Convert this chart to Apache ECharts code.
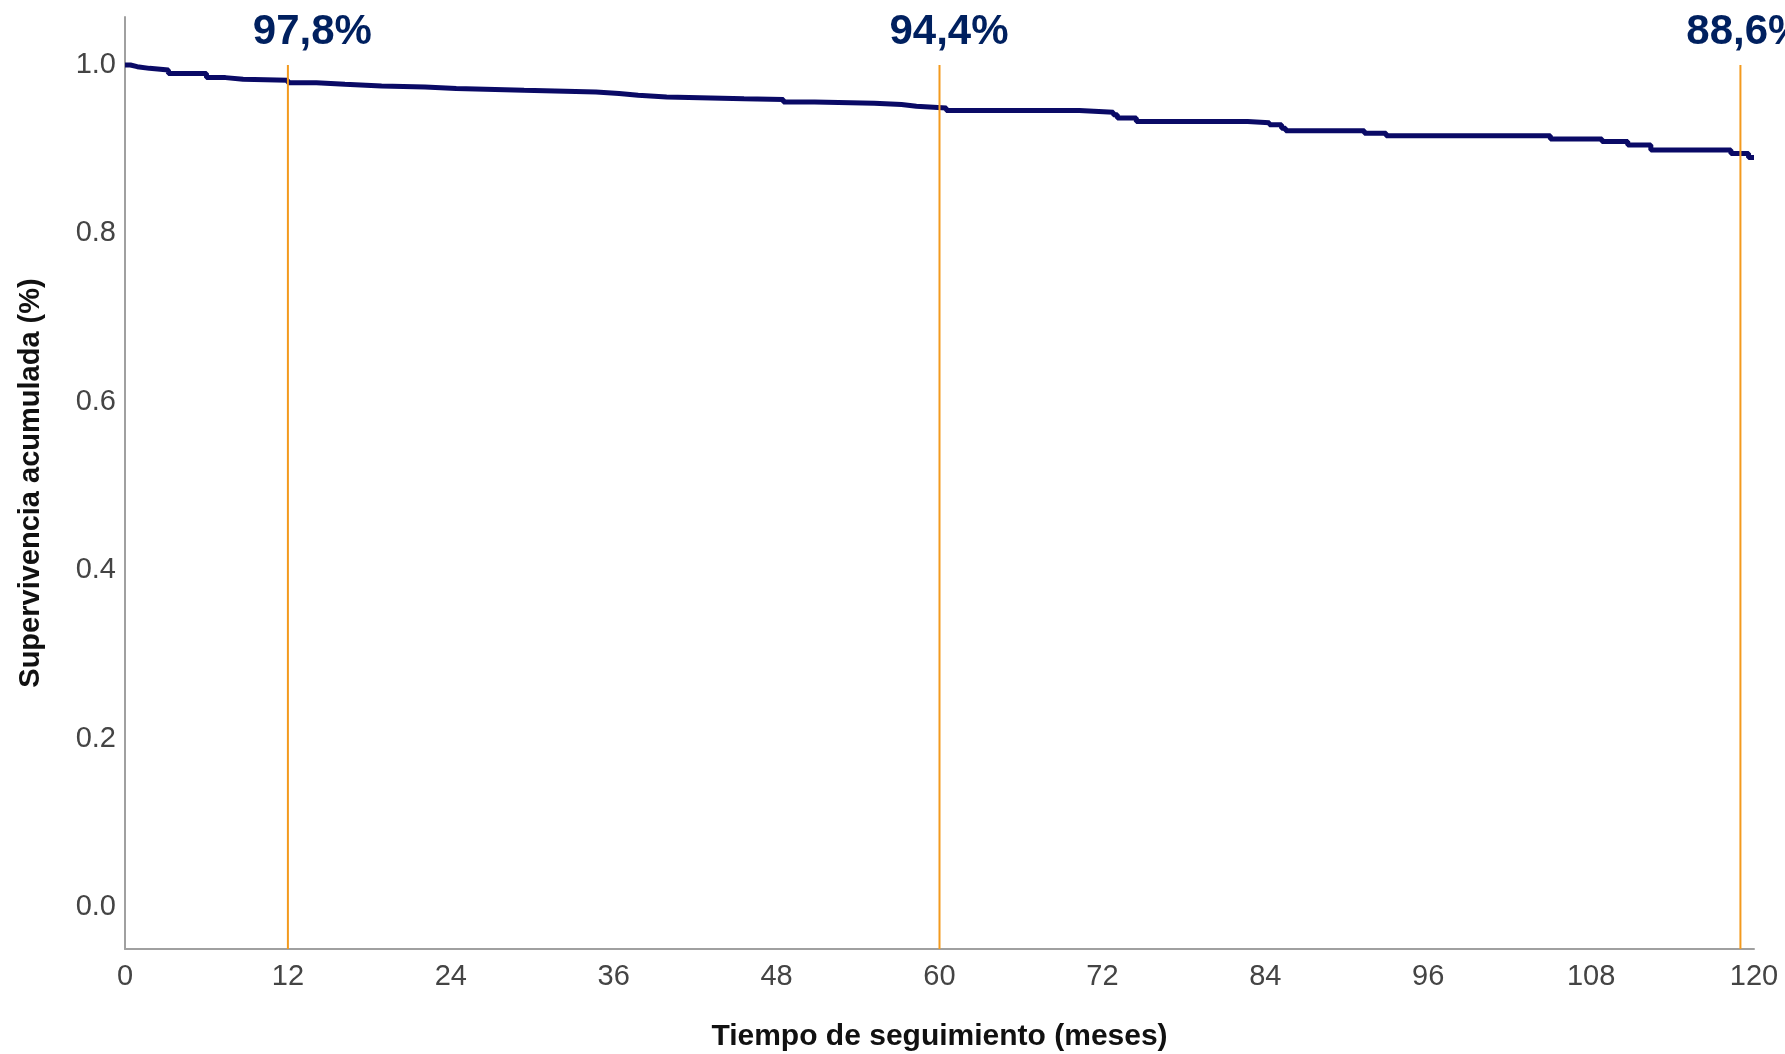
<!DOCTYPE html>
<html>
<head>
<meta charset="utf-8">
<title>Supervivencia acumulada</title>
<script src="https://cdn.jsdelivr.net/npm/echarts@6/dist/echarts.min.js"></script>
<style>
    html, body {margin: 0; padding: 0; background: #fff;}
    #survivalChart {width: 1785px; height: 1054px;}
</style>
</head>
<body>
<div id="survivalChart"></div>
<script>
// Kaplan-Meier curve (months / cumulative survival)
const months = [0, 0.4, 0.9, 1.8, 3.2, 6.0, 7.4, 8.7, 12.0, 14.1, 16.2, 18.9, 22.1, 24.4, 29.4, 34.7, 36.4, 37.8, 39.9,
    45.6, 48.5, 50.8, 55.2, 57.2, 58.3, 60.5, 70.3, 72.8, 73.1, 74.5, 82.7, 84.3, 85.2, 85.5, 91.3, 92.9,
    105.0, 108.8, 110.7, 112.4, 118.3, 119.6, 120.0];
const survival = [1.0, 0.998, 0.996, 0.994, 0.990, 0.985, 0.983, 0.982, 0.979, 0.977, 0.975, 0.974, 0.972, 0.970, 0.968, 0.966, 0.964, 0.962, 0.960,
    0.959, 0.956, 0.9545, 0.953, 0.951, 0.949, 0.946, 0.944, 0.941, 0.937, 0.933, 0.9315, 0.929, 0.925, 0.922, 0.919, 0.916,
    0.912, 0.909, 0.905, 0.899, 0.895, 0.890, 0.890];

// orange reference lines and their labels
const markMonths = [12, 60, 119];
const markTop = 1.0;
const labelMonths = [13.8, 60.7, 119.4];
const labelLevel = 1.039;
const labelTexts = ['97,8%', '94,4%', '88,6%'];

const xTicks = [0, 12, 24, 36, 48, 60, 72, 84, 96, 108, 120];
const yTicks = [0, 0.2, 0.4, 0.6, 0.8, 1.0];

let chartDom = document.getElementById('survivalChart');
let chart = echarts.init(chartDom);

let curveData = months.map((m, i) => [m, survival[i]]);

let refSeries = markMonths.map(m => ({
    type: 'line',
    data: [[m, -0.05], [m, markTop]],
    symbol: 'none',
    silent: true,
    z: 5,
    lineStyle: {color: '#f39a1e', width: 2}
}));

let tickFont = "'Liberation Sans Narrow', 'Arial Narrow', 'Liberation Sans', sans-serif";

let option = {
    animation: false,
    grid: {left: 125, right: 31, top: 17, bottom: 105, outerBoundsMode: 'none'},
    xAxis: {
        type: 'value',
        min: 0,
        max: 120,
        interval: 12,
        name: 'Tiempo de seguimiento (meses)',
        nameLocation: 'middle',
        nameGap: 73,
        nameTextStyle: {fontFamily: 'Liberation Sans', fontWeight: 'bold', fontSize: 30, color: '#111'},
        axisLine: {onZero: false, lineStyle: {color: '#a0a0a0', width: 2}},
        axisTick: {show: false},
        splitLine: {show: false},
        axisLabel: {
            customValues: xTicks,
            margin: 13,
            fontFamily: tickFont,
            fontSize: 29,
            color: '#444'
        }
    },
    yAxis: {
        type: 'value',
        min: -0.05,
        max: 1.057,
        name: 'Supervivencia acumulada (%)',
        nameLocation: 'middle',
        nameGap: 80,
        nameTextStyle: {fontFamily: 'Liberation Sans', fontWeight: 'bold', fontSize: 29, color: '#111'},
        axisLine: {show: true, onZero: false, lineStyle: {color: '#a0a0a0', width: 2}},
        axisTick: {show: false},
        splitLine: {show: false},
        axisLabel: {
            customValues: yTicks,
            formatter: v => v.toFixed(1),
            margin: 9,
            fontFamily: tickFont,
            fontSize: 29,
            color: '#444'
        }
    },
    series: [
        {
            type: 'line',
            data: curveData,
            step: 'end',
            symbol: 'none',
            z: 3,
            lineStyle: {color: '#0a0a66', width: 5}
        },
        ...refSeries,
        {
            type: 'scatter',
            data: labelMonths.map(m => [m, labelLevel]),
            symbolSize: 0,
            clip: false,
            silent: true,
            z: 6,
            itemStyle: {opacity: 1},
            label: {
                show: true,
                position: 'inside',
                formatter: p => labelTexts[p.dataIndex],
                fontFamily: 'Liberation Sans',
                fontWeight: 'bold',
                fontSize: 42,
                color: '#00205f',
                textBorderWidth: 0,
                textBorderColor: 'transparent'
            }
        }
    ]
};
chart.setOption(option);
</script>
</body>
</html>
